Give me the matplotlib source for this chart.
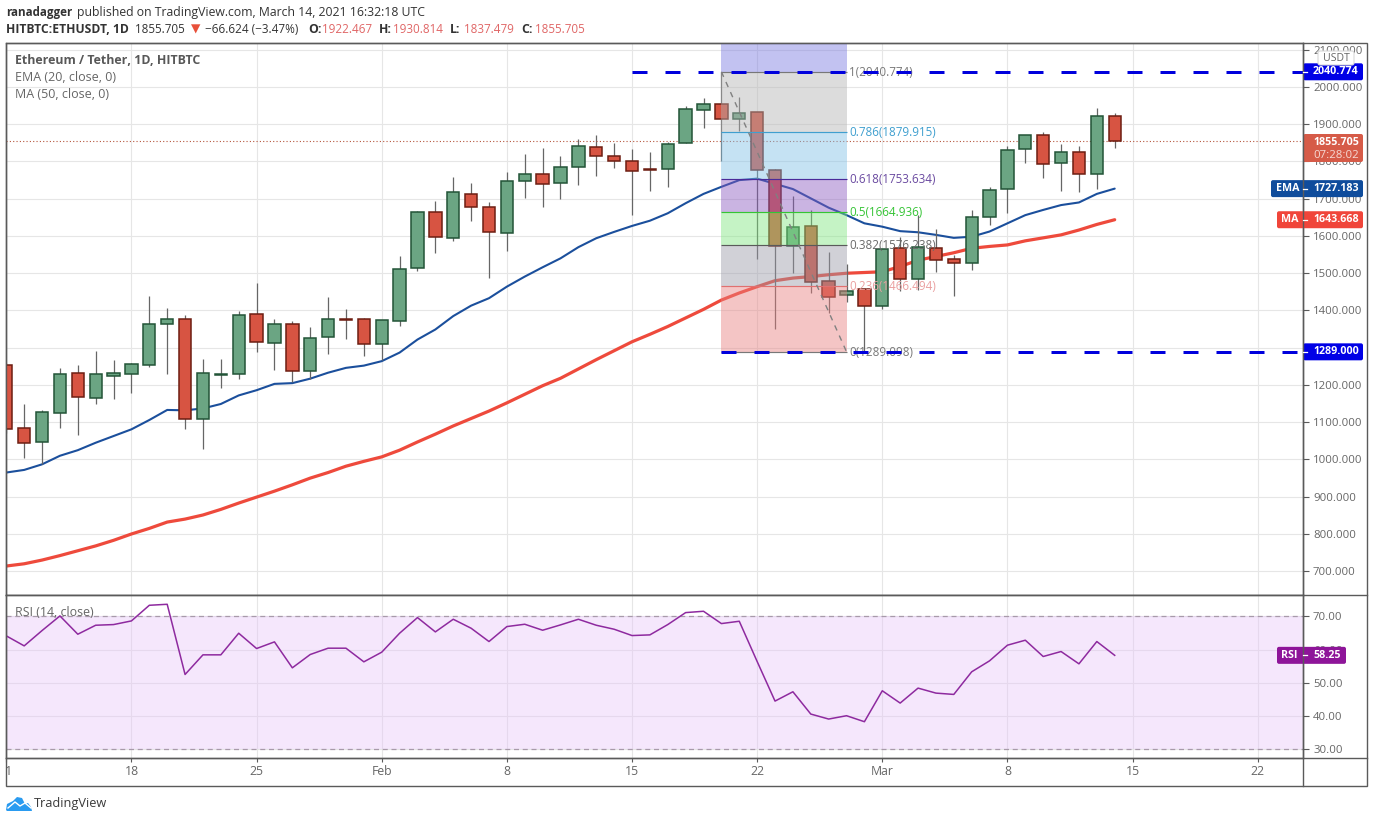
import matplotlib
matplotlib.use("Agg")
import matplotlib.pyplot as plt
import matplotlib.dates as mdates
from matplotlib.patches import FancyBboxPatch, Polygon, Rectangle
from matplotlib.transforms import Bbox, TransformedBbox
import pandas as pd

dates = pd.date_range("2021-01-11", "2021-03-14", freq="D")
opens = [1253,1084,1048,1126,1231,1166,1225,1230,1254,1365,1376,1110,1227,1230,1390,1314,1363,1237,1328,1376,1376,
         1309,1371,1513,1664,1594,1714,1677,1607,1747,1766,1741,1784,1838,1814,1800,1779,1779,1849,1937,1954,1913,
         1932,1776,1572,1626,1478,1442,1457,1413,1567,1484,1567,1537,1527,1652,1725,1833,1870,1795,1825,1766,1922.467]
highs = [1260,1149,1133,1246,1254,1291,1267,1258,1439,1406,1388,1271,1269,1399,1474,1376,1371,1357,1436,1404,1380,
         1374,1545,1667,1694,1758,1741,1690,1771,1820,1836,1815,1860,1871,1850,1834,1825,1853,1949,1970,2040,1972,
         1934,1779,1707,1670,1557,1525,1457,1566,1598,1656,1620,1549,1670,1731,1842,1870,1879,1846,1842,1944,1930.814]
lows = [1070,1005,988,1084,1066,1149,1163,1179,1249,1230,1083,1029,1193,1217,1289,1240,1208,1217,1284,1324,1279,
        1266,1359,1507,1555,1587,1640,1488,1560,1703,1679,1700,1738,1762,1783,1657,1722,1732,1849,1891,1800,1883,
        1539,1349,1500,1446,1392,1424,1289,1403,1453,1455,1503,1439,1509,1629,1663,1797,1757,1722,1719,1727,1837.479]
closes = [1081,1045,1127,1229,1169,1229,1231,1256,1365,1376,1110,1231,1230,1387,1316,1365,1237,1325,1376,1375,1309,
          1374,1511,1664,1596,1717,1677,1610,1747,1766,1739,1784,1841,1814,1800,1774,1778,1846,1940,1954,1913,1929,
          1776,1572,1623,1476,1437,1453,1413,1564,1485,1570,1536,1528,1650,1723,1830,1870,1792,1825,1766,1921,1855.705]
ema20 = [965,972,987,1010,1025,1045,1063,1081,1106,1133,1132,1137,1149,1172,1186,1203,1205,1217,1233,1246,1252,
         1264,1287,1322,1349,1385,1413,1433,1464,1491,1516,1540,1570,1594,1611,1627,1641,1661,1688,1713,1732,1750,
         1754,1740,1726,1701,1676,1656,1634,1625,1613,1610,1603,1595,1598,1612,1634,1656,1670,1683,1690,1713,1727.183]
ma50 = [714,720,730,742,755,768,783,800,815,832,840,851,866,883,899,915,932,950,965,982,995,
        1007,1025,1047,1068,1090,1110,1130,1152,1175,1198,1218,1243,1268,1292,1316,1336,1357,1380,1403,1428,1447,
        1464,1480,1487,1491,1496,1500,1502,1504,1518,1535,1545,1555,1567,1572,1576,1587,1595,1603,1616,1631,1643.668]
rsi = [64.1,61.1,65.7,70.1,64.6,67.3,67.5,68.6,73.3,73.6,52.5,58.4,58.4,64.9,60.3,62.3,54.5,58.5,60.4,60.4,56.3,
       59.2,64.9,69.6,65.3,69.1,66.4,62.4,66.9,67.6,65.8,67.4,69.1,67.3,66.1,64.2,64.4,67.5,71.1,71.5,67.8,68.5,
       56.4,44.5,47.3,40.6,39.1,40.1,38.3,47.6,43.9,48.4,46.9,46.5,53.3,56.6,61.3,62.8,57.9,59.4,55.7,62.4,58.25]

fib_levels = [1, 0.786, 0.618, 0.5, 0.382, 0.236, 0]
fib_prices = [2040.774, 1879.915, 1753.634, 1664.936, 1576.238, 1466.494, 1289.098]
fib_line_colors = ["#787878", "#3f9fcf", "#4a2a9a", "#35c435", "#5a5a5a", "#e07070", "#787878"]
fib_text_colors = ["#787878", "#3f9fcf", "#6a4aa0", "#35c435", "#6a6a6a", "#eaa0a0", "#787878"]
fib_band_colors = ["#b3b3b3", "#7fc0e6", "#8a5ac0", "#7fe67f", "#9a9aa8", "#e88080"]
fib_start, fib_end = pd.Timestamp("2021-02-20"), pd.Timestamp("2021-02-27")
resistance, support = 2040.774, 1289.0
last_price = 1855.705
price_ticks = list(range(700, 2101, 100))
rsi_ticks = [30, 40, 50, 60, 70]
week_ticks = ["2021-01-11", "2021-01-18", "2021-01-25", "2021-02-01", "2021-02-08", "2021-02-15", "2021-02-22",
              "2021-03-01", "2021-03-08", "2021-03-15", "2021-03-22"]
week_labels = ["11", "18", "25", "Feb", "8", "15", "22", "Mar", "8", "15", "22"]

W, H = 1374, 823
FONT = "Open Sans"
plt.rcParams["font.family"] = [FONT, "DejaVu Sans"]
fig = plt.figure(figsize=(W / 100, H / 100), dpi=100, facecolor="white")

L, R, T, M, B = 6.3, 1303.3, 43.3, 595.3, 758.3
def rect(x0, x1, y0, y1):
    return [x0 / W, 1 - y1 / H, (x1 - x0) / W, (y1 - y0) / H]

ax = fig.add_axes(rect(L, R, T, M))
ar = fig.add_axes(rect(L, R, M, B), sharex=ax)
ov = fig.add_axes([0, 0, 1, 1], zorder=20)
ov.set_xlim(0, W); ov.set_ylim(H, 0); ov.axis("off"); ov.patch.set_alpha(0)

x = mdates.date2num(dates)
day0 = x[0]
xlim = (day0 + 0.095, day0 + 72.55)
ticks_x = mdates.date2num(pd.to_datetime(week_ticks))
GRID = "#e6e6e6"
AX = "#5a5a5a"
TXT = "#666666"

for a in (ax, ar):
    a.set_xlim(*xlim)
    a.set_xticks(ticks_x)
    a.grid(True, color=GRID, lw=0.8, zorder=0)
    a.set_axisbelow(True)
    for s in a.spines.values():
        s.set_color(AX); s.set_linewidth(1.0)

ax.set_ylim(635.4, 2117.3)
ax.set_yticks(price_ticks)
ax.set_yticklabels([f"{v:.3f}" for v in price_ticks])
ax.yaxis.tick_right()
ax.tick_params(axis="y", length=4, width=0.8, color=AX, labelcolor=TXT, labelsize=8.2, pad=3)
ax.tick_params(axis="x", length=0, labelbottom=False)

ax.plot(x, ma50, color="#ee4a3c", lw=2.3, zorder=2, solid_capstyle="round")
ax.plot(x, ema20, color="#1b4f9c", lw=1.5, zorder=2, solid_capstyle="round")

GREEN, GREEN_E = "#6ba583", "#225437"
RED, RED_E = "#d75442", "#6d1e12"
body_w = 0.69
for xi, o, h, l, c in zip(x, opens, highs, lows, closes):
    up = c >= o
    ax.vlines(xi, l, h, color="#666666", lw=0.9, zorder=3)
    ax.bar(xi, abs(c - o), bottom=min(o, c), width=body_w, color=GREEN if up else RED,
           edgecolor=GREEN_E if up else RED_E, linewidth=1.1, zorder=4)

fs, fe = mdates.date2num(fib_start), mdates.date2num(fib_end)
ax.fill_between([fs, fe], fib_prices[0], 2117.3, color="#7878e0", alpha=0.45, lw=0, zorder=5)
for p0, p1, col in zip(fib_prices[:-1], fib_prices[1:], fib_band_colors):
    ax.fill_between([fs, fe], p1, p0, color=col, alpha=0.45, lw=0, zorder=5)
for lev, p, lc, tc in zip(fib_levels, fib_prices, fib_line_colors, fib_text_colors):
    ax.hlines(p, fs, fe, color=lc, lw=0.85, zorder=6)
    ax.text(fe + 0.15, p - 2.5, f"{lev}({p:.3f})", color=tc, fontsize=8.4, va="center", ha="left", zorder=6)
ax.plot([fs, fe], [fib_prices[0], fib_prices[-1]], color="#808080", lw=1.0, ls=(0, (4, 4)), zorder=6)

dash = (0, (5, 6))
ax.hlines(resistance, mdates.date2num(pd.Timestamp("2021-02-15")), xlim[1], color="#0000dd", lw=2.16,
          linestyles=[dash], zorder=7)
ax.hlines(support, fs, xlim[1], color="#0000dd", lw=2.16, linestyles=[dash], zorder=7)
ax.axhline(last_price, color="#b5543c", lw=0.8, ls=(0, (1, 2)), zorder=3)

ar.set_ylim(27.3, 76.3)
ar.set_yticks(rsi_ticks)
ar.set_yticklabels([f"{v:.2f}" for v in rsi_ticks])
ar.yaxis.tick_right()
ar.tick_params(axis="y", length=4, width=0.8, color=AX, labelcolor=TXT, labelsize=8.2, pad=3)
ar.tick_params(axis="x", length=3, width=0.8, color=AX, labelcolor=TXT, labelsize=8.8, pad=2)
ar.set_xticklabels(week_labels)
clip = TransformedBbox(Bbox([[L / W, 0], [1, 1]]), fig.transFigure)
first = ar.get_xticklabels()[0]
first.set_clip_on(True)
first.set_clip_box(clip)
ar.axhspan(30, 70, facecolor="#e6c5f8", alpha=0.4, lw=0, zorder=1)
for v in (30, 70):
    ar.axhline(v, color="#a89aaa", lw=0.9, ls=(0, (4, 3)), zorder=2)
ar.plot(x, rsi, color="#8e2a9f", lw=1.1, zorder=3)

# outer frame of the widget
ov.add_patch(Rectangle((L, T), 1367 - L, 785.7 - T, fill=False, ec=AX, lw=1.0))
ov.plot([R, R], [T, 785.7], color=AX, lw=1.0)
ov.plot([L, 1367], [M, M], color=AX, lw=1.0)
ov.plot([L, 1367], [B, B], color=AX, lw=1.0)

def ypx(axis, v):
    return H - axis.transData.transform((x[0], v))[1]

VX = 1313
def chip(x0, x1, yc, color, value, name=None, nx=None):
    h = 17
    ov.add_patch(FancyBboxPatch((x0 + 1.5, yc - h / 2 + 1.5), x1 - x0 - 3, h - 3,
                                boxstyle="round,pad=1.5,rounding_size=2", fc=color, ec="none"))
    ov.text(VX, yc, value, color="white", fontsize=7.7, fontweight="bold", va="center", ha="left")
    if name:
        ov.text(nx, yc, name, color="white", fontsize=7.7, fontweight="bold", va="center", ha="left")

fig.canvas.draw()
BLUE = "#0000e6"
yr, ys, ye, ym, yp = (ypx(ax, resistance), ypx(ax, support), ypx(ax, ema20[-1]), ypx(ax, ma50[-1]), ypx(ax, last_price))
chip(R, 1363, yr, BLUE, f"{resistance:.3f}")
chip(R, 1363, ys, BLUE, f"{support:.3f}")
chip(1271, 1363, ye, "#0f4c9c", f"{ema20[-1]:.3f}", "EMA", 1276)
chip(1277, 1363, ym, "#f0453a", f"{ma50[-1]:.3f}", "MA", 1281)
ov.add_patch(FancyBboxPatch((R, 134), 1363 - R, 28, boxstyle="round,pad=0,rounding_size=2", fc="#d65b48", ec="none"))
ov.text(VX, 142.5, f"{last_price:.3f}", color="white", fontsize=7.7, fontweight="bold", va="center")
ov.text(VX, 155, "07:28:02", color="#f6dad5", fontsize=8.2, va="center")
yrsi = ypx(ar, rsi[-1])
chip(1277, 1346, yrsi, "#8e1599", f"{rsi[-1]:.2f}", "RSI", 1281)
for yy in (yr, ys, ye, ym, yrsi):
    ov.plot([R, R + 4], [yy, yy], color="white", lw=0.9)
ov.add_patch(FancyBboxPatch((1319, 52), 34, 12, boxstyle="round,pad=1,rounding_size=2", fc="white", ec="#d8d8d8", lw=0.8))
ov.text(1336, 58.5, "USDT", color=TXT, fontsize=7.6, ha="center", va="center")

# legends inside the panes
ov.text(15, 60, "Ethereum / Tether, 1D, HITBTC", color="#585858", fontsize=8.9, fontweight="bold", va="center")
ov.text(15, 77.5, "EMA (20, close, 0)", color="#666666", fontsize=9.0, va="center")
ov.text(15, 94.5, "MA (50, close, 0)", color="#666666", fontsize=9.0, va="center")
ov.text(15, 612, "RSI (14, close)", color="#666666", fontsize=8.9, va="center")

# header
HD = "#333333"
NUM = "#e06666"
ov.text(6, 12.5, "ranadagger", color=HD, fontsize=8.4, fontweight="bold", va="center")
ov.text(77, 12.5, "published on TradingView.com, March 14, 2021 16:32:18 UTC", color=HD, fontsize=8.8, va="center")
ov.text(6, 29.5, "HITBTC:ETHUSDT, 1D", color=HD, fontsize=8.7, fontweight="bold", va="center")
ov.text(135, 29.5, "1855.705", color=HD, fontsize=8.4, va="center")
ov.text(191, 29.5, "\u25BC", color="#e8503a", fontsize=8.8, va="center", family="DejaVu Sans")
ov.text(205, 29.5, "\u221266.624 (\u22123.47%)", color=HD, fontsize=8.5, va="center")
for lx, lab, vx, val in [(308, "O:", 322, "1922.467"), (379, "H:", 393, "1930.814"),
                         (450, "L:", 464, "1837.479"), (521, "C:", 535, "1855.705")]:
    ov.text(lx, 29.5, lab, color=HD, fontsize=8.8, fontweight="bold", va="center")
    ov.text(vx, 29.5, val, color=NUM, fontsize=8.4, va="center")

# TradingView logo
ov.add_patch(Polygon([(6, 810), (7, 804), (13, 801), (17, 797), (22, 798), (25, 804), (28, 803), (31, 807), (32, 811),
                      (7, 811)], closed=True, fc="#2a9bf0", ec="none"))
ov.plot([8, 15, 20, 25, 31], [808, 802, 806, 803, 808], color="white", lw=1.0)
ov.text(34, 804, "TradingView", color="#3a3a3a", fontsize=9.2, va="center")

fig.savefig("out.png", dpi=100, facecolor="white")
